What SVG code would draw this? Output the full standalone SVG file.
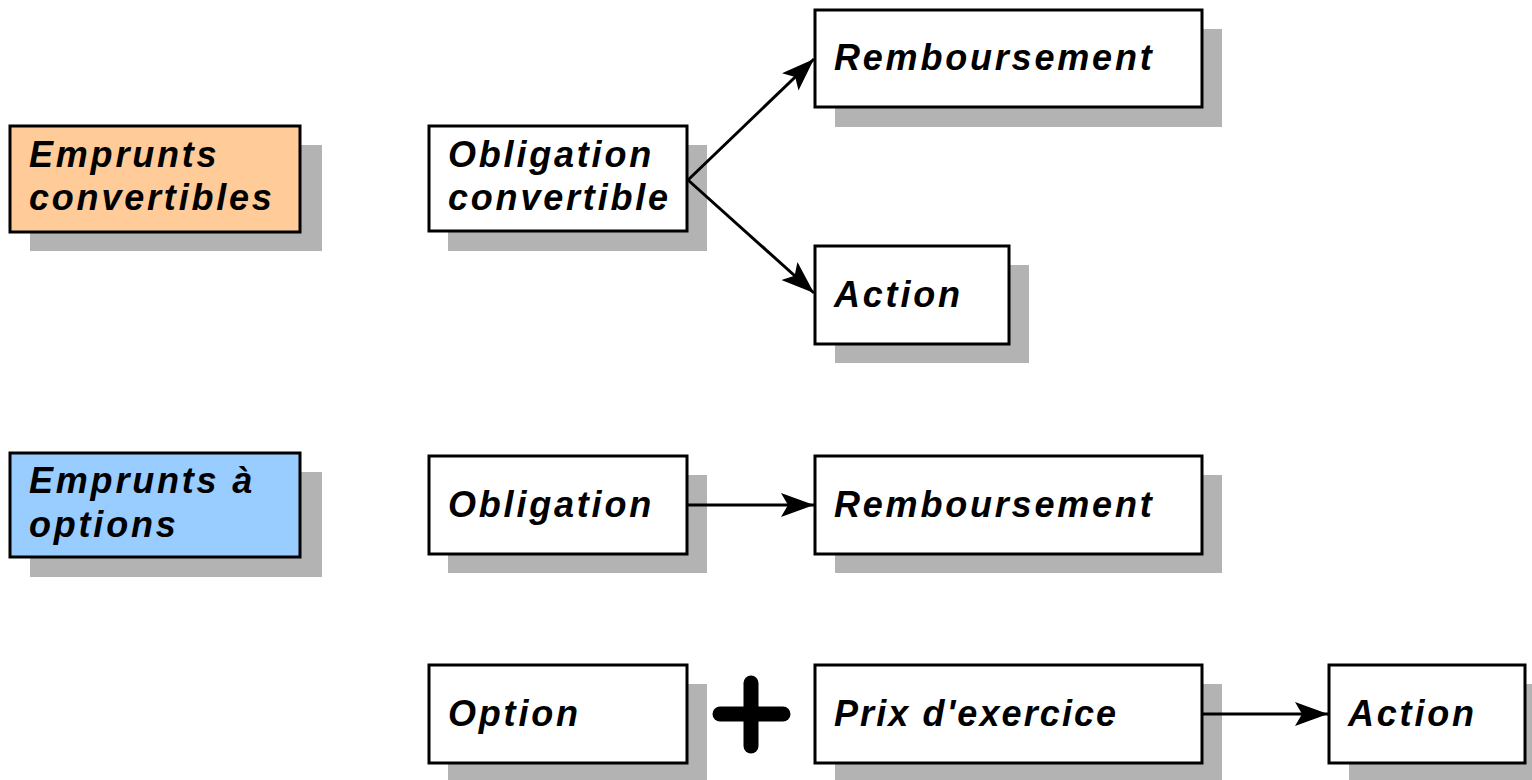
<svg xmlns="http://www.w3.org/2000/svg" width="1532" height="780" viewBox="0 0 1532 780">
<style>
.shadow{fill:#b3b3b3}
.box{stroke:#000;stroke-width:3}
.w{fill:#fff}
.orange{fill:#ffcc99}
.blue{fill:#99ccff}
text{font-family:"Liberation Sans",Arial,sans-serif;font-weight:bold;font-style:italic;font-size:36px;letter-spacing:2.8px;fill:#000}
text.tight{letter-spacing:2.1px}
.conn{stroke:#000;stroke-width:3;fill:none}
</style>
<defs>
<marker id="arr" markerUnits="userSpaceOnUse" markerWidth="36" markerHeight="26" refX="33" refY="12" orient="auto">
<path d="M0,0 L33,12 L0,24 L7,12 Z" fill="#000"/>
</marker>
</defs>
<rect width="1532" height="780" fill="#fff"/>
<g id="emprunts-convertibles">
<rect class="shadow" x="30" y="145" width="292" height="106"/>
<rect class="box orange" x="10" y="126" width="290" height="106"/>
<text x="29" y="167">Emprunts</text>
<text x="29" y="210">convertibles</text>
</g>
<g id="obligation-convertible">
<rect class="shadow" x="448" y="145" width="259" height="106"/>
<rect class="box w" x="429" y="126" width="258" height="105"/>
<text x="448" y="167">Obligation</text>
<text x="448" y="210">convertible</text>
</g>
<g id="remboursement-1">
<rect class="shadow" x="835" y="29" width="387" height="98"/>
<rect class="box w" x="815" y="10" width="387" height="97"/>
<text x="834" y="70">Remboursement</text>
</g>
<g id="action-1">
<rect class="shadow" x="835" y="265" width="194" height="98"/>
<rect class="box w" x="815" y="246" width="194" height="98"/>
<text x="834" y="307">Action</text>
</g>
<g id="emprunts-options">
<rect class="shadow" x="30" y="472" width="292" height="105"/>
<rect class="box blue" x="10" y="453" width="290" height="104"/>
<text x="29" y="493">Emprunts à</text>
<text x="29" y="537">options</text>
</g>
<g id="obligation">
<rect class="shadow" x="448" y="475" width="259" height="98"/>
<rect class="box w" x="429" y="456" width="258" height="98"/>
<text x="448" y="517">Obligation</text>
</g>
<g id="remboursement-2">
<rect class="shadow" x="835" y="475" width="387" height="98"/>
<rect class="box w" x="815" y="456" width="387" height="98"/>
<text x="834" y="517">Remboursement</text>
</g>
<g id="option">
<rect class="shadow" x="448" y="684" width="259" height="98"/>
<rect class="box w" x="429" y="665" width="258" height="98"/>
<text x="448" y="726">Option</text>
</g>
<g id="plus">
<line x1="720" y1="714" x2="783" y2="714" stroke="#000" stroke-width="15" stroke-linecap="round"/>
<line x1="751" y1="683" x2="751" y2="746" stroke="#000" stroke-width="15" stroke-linecap="round"/>
</g>
<g id="prix-exercice">
<rect class="shadow" x="835" y="684" width="387" height="98"/>
<rect class="box w" x="815" y="665" width="387" height="98"/>
<text class="tight" x="834" y="726">Prix d'exercice</text>
</g>
<g id="action-2">
<rect class="shadow" x="1349" y="684" width="196" height="98"/>
<rect class="box w" x="1329" y="665" width="196" height="98"/>
<text x="1348" y="726">Action</text>
</g>
<g id="connectors">
<line class="conn" x1="688" y1="180" x2="814" y2="59" marker-end="url(#arr)"/>
<line class="conn" x1="688" y1="180" x2="814" y2="293" marker-end="url(#arr)"/>
<line class="conn" x1="688" y1="505" x2="814" y2="505" marker-end="url(#arr)"/>
<line class="conn" x1="1203" y1="714" x2="1328" y2="714" marker-end="url(#arr)"/>
</g>
</svg>
